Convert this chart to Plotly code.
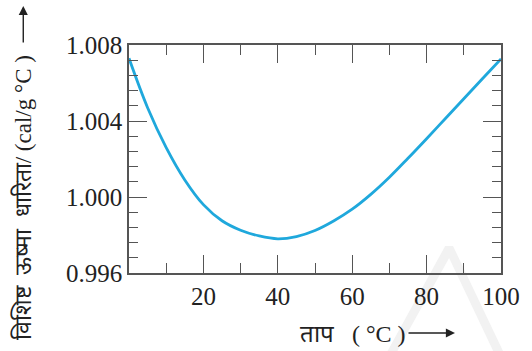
import plotly.graph_objects as go

# Specific heat of water vs temperature
temp_c = [0, 5, 10, 15, 20, 25, 30, 35, 40, 45, 50, 55, 60, 65, 70, 75, 80, 85, 90, 95, 100]
specific_heat = [1.0073, 1.0047, 1.0026, 1.0009, 0.9996, 0.99875, 0.99825, 0.99795, 0.9978, 0.99792,
                 0.99824, 0.99874, 0.99936, 1.00014, 1.00104, 1.00204, 1.00307, 1.00412, 1.00517,
                 1.00622, 1.00727]

x_ticks = [20, 40, 60, 80, 100]
y_ticks = [0.996, 1.000, 1.004, 1.008]
y_tick_text = ["0.996", "1.000", "1.004", "1.008"]

x_title = "ताप   ( °C )"
y_title = "विशिष्ट  ऊष्मा  धारिता/ (cal/g °C )"

serif = "Liberation Serif"
axis_col = "#555555"
text_col = "#222222"

# plot area in pixels: left 129, right 509, top 45, bottom 273
L, R, T, B = 129, 509, 45, 273


def px_x(p):
    return (p - L) / (R - L)


def px_y(p):
    return (B - p) / (B - T)


fig = go.Figure()
fig.add_trace(go.Scatter(
    x=temp_c, y=specific_heat, mode="lines",
    line=dict(color="#1fa8dc", width=2.8, shape="spline", smoothing=1.0),
    hoverinfo="skip", showlegend=False,
))

common = dict(showgrid=False, zeroline=False, showline=True, linecolor=axis_col, linewidth=1.5,
              mirror="allticks", ticks="inside", ticklen=18, tickwidth=1.2, tickcolor=axis_col)

fig.update_xaxes(range=[0, 100], tickvals=x_ticks,
                 tickfont=dict(family=serif, size=25, color=text_col),
                 minor=dict(ticks="inside", dtick=10, tick0=0, ticklen=10, tickwidth=1.2, tickcolor=axis_col),
                 **common)
fig.update_yaxes(range=[0.996, 1.008], tickvals=y_ticks, ticktext=y_tick_text,
                 tickfont=dict(family=serif, size=25, color=text_col),
                 minor=dict(ticks="inside", dtick=0.0008, tick0=0.996, ticklen=9, tickwidth=1.2, tickcolor=axis_col),
                 **common)

# axis titles
fig.add_annotation(text=x_title, xref="paper", yref="paper", x=px_x(358), y=px_y(334),
                   showarrow=False, xanchor="center", yanchor="middle",
                   font=dict(family=serif, size=24, color=text_col))
fig.add_annotation(text=y_title, xref="paper", yref="paper", x=px_x(21), y=px_y(198),
                   textangle=-90, showarrow=False, xanchor="center", yanchor="middle",
                   font=dict(family=serif, size=23, color=text_col))

# direction arrows next to the titles
fig.add_annotation(text="", xref="paper", yref="paper", x=px_x(462), y=px_y(333),
                   ax=-48, ay=0, showarrow=True, arrowhead=2, arrowsize=1.3, arrowwidth=1.4,
                   arrowcolor=text_col)
fig.add_annotation(text="", xref="paper", yref="paper", x=px_x(21), y=px_y(6),
                   ax=0, ay=38, showarrow=True, arrowhead=2, arrowsize=1.3, arrowwidth=1.4,
                   arrowcolor=text_col)

# faint publisher mark in the lower right (a chevron band)
mark = [(392, 353), (452, 246), (460, 246), (512, 353), (502, 353), (456, 258), (402, 353)]
mark_path = "M " + " L ".join(f"{px_x(a)} {px_y(b)}" for a, b in mark) + " Z"
fig.add_shape(type="path", xref="paper", yref="paper", layer="below", path=mark_path,
              fillcolor="#f2f2f2", line=dict(width=0))

fig.update_layout(width=532, height=351, margin=dict(l=L, r=532 - R, t=T, b=351 - B),
                  paper_bgcolor="white", plot_bgcolor="rgba(0,0,0,0)")

fig.write_html("out.html")
